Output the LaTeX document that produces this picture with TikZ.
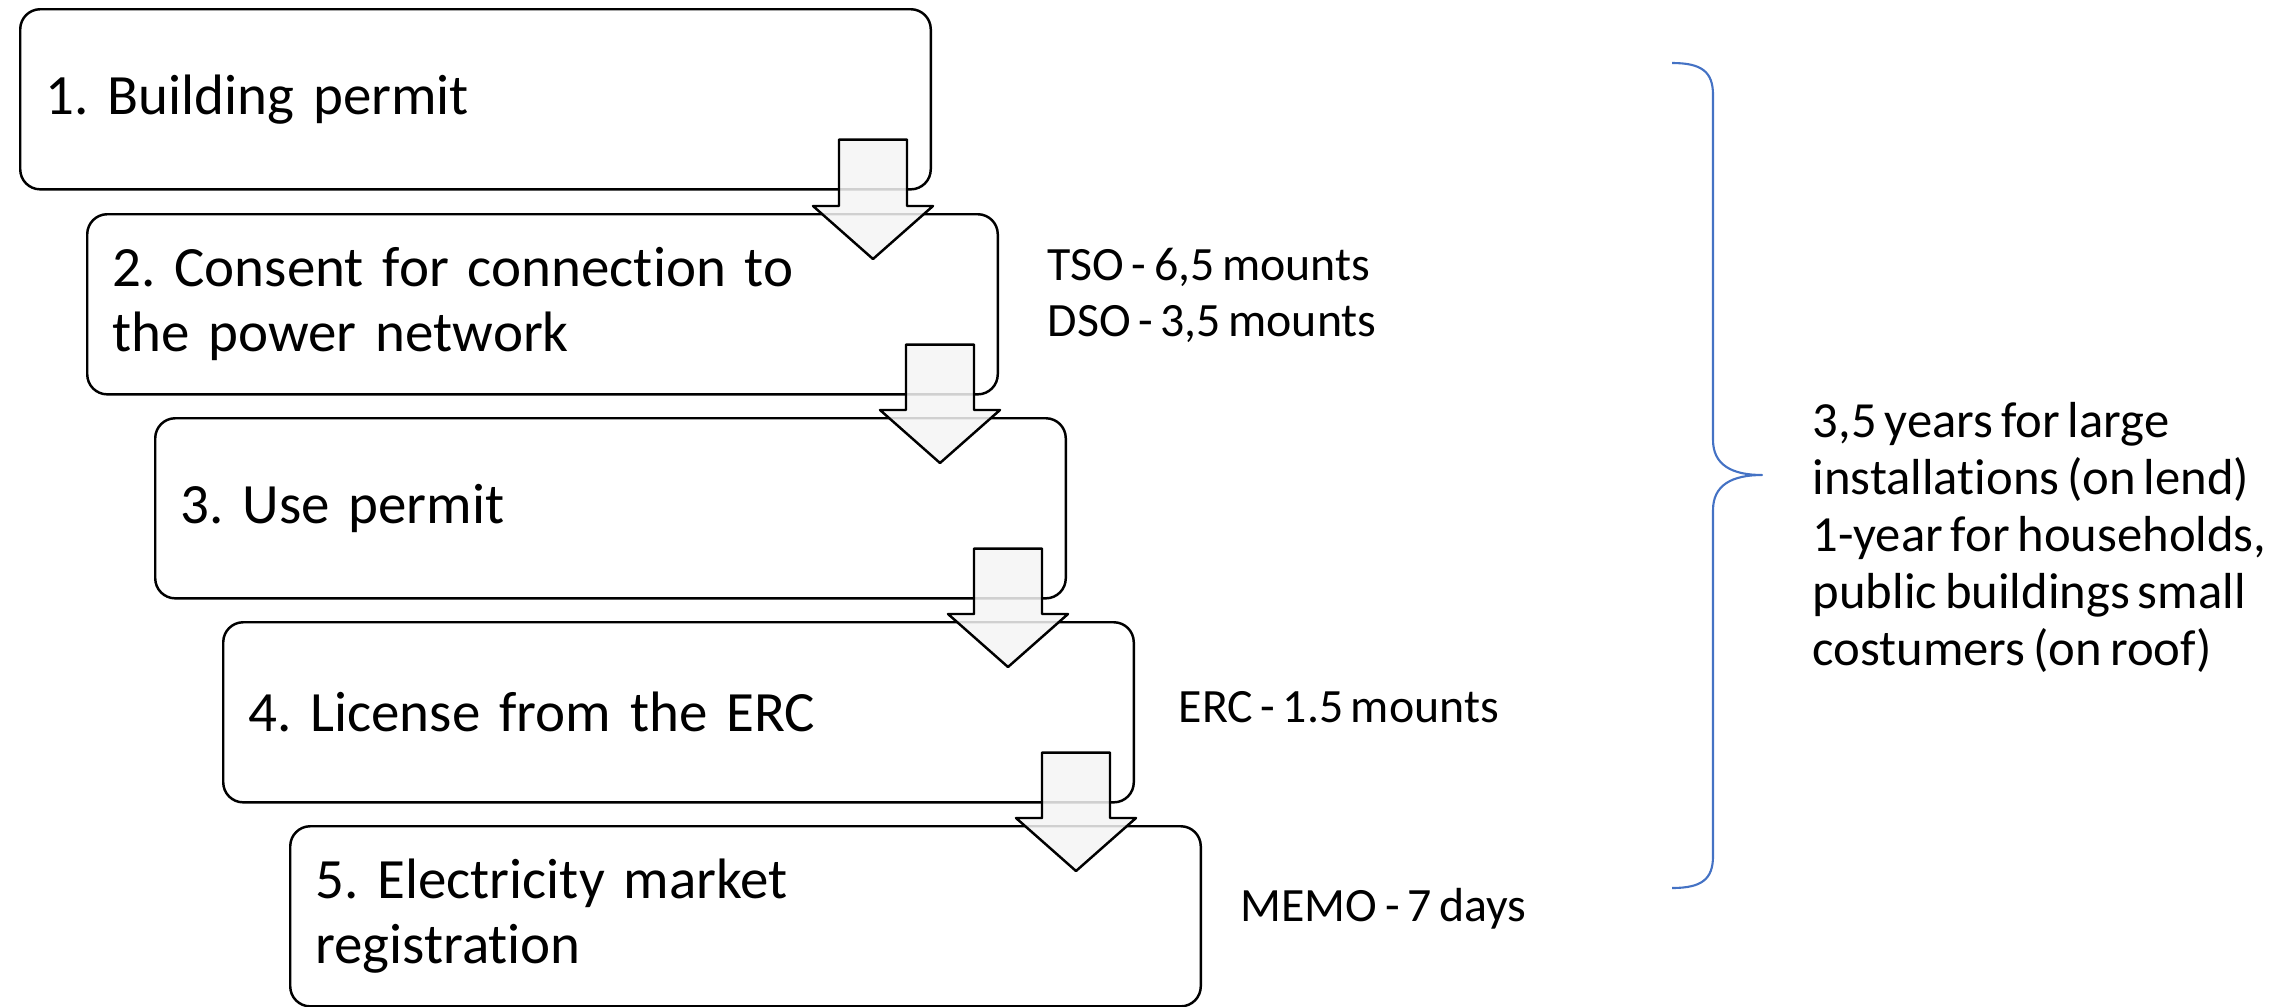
\documentclass[tikz,border=0pt]{standalone}
\usepackage{fontspec}
\setmainfont{Carlito}[Ligatures=NoCommon, WordSpace=0.7]
\frenchspacing
\usetikzlibrary{calc,positioning}
\definecolor{braceblue}{RGB}{68,114,196}
% block arrow from the lower right of one step box into the next one
\newcommand{\stepArrow}[2]{%
  \coordinate (t) at ($(#1.south east)+(-59,0)$);
  \coordinate (h) at (t |- #2.north);
  \draw[blockarrow] ($(t)+(-34,-51)$) -- ($(t)+(34,-51)$) -- ($(h)+(34,-7)$)
    -- ($(h)+(60,-7)$) -- ($(h)+(0,46)$) -- ($(h)+(-60,-7)$) -- ($(h)+(-34,-7)$) -- cycle;
}
\begin{document}
\begin{tikzpicture}[x=0.01cm, y=-0.01cm, line join=round]
  \tikzset{stepbox/.style={draw, line width=0.7pt, rounded corners=0.2cm, fill=white,
      text width=8.6cm, inner xsep=0.25cm, minimum height=1.8cm, align=left, anchor=north west,
      font=\fontsize{16.2}{18.5}\selectfont},
    blockarrow/.style={draw, line width=0.7pt, fill=black!4, fill opacity=0.85},
    side/.style={anchor=west, align=left, inner sep=0pt, font=\fontsize{13.6}{16}\selectfont},
    note/.style={side, font=\fontsize{14.4}{16.2}\selectfont}}
  \useasboundingbox (0,0) rectangle (2280,1006);
  \node[stepbox] (b1) at (19,8) {1. Building permit};
  \node[stepbox] (b2) at (86,213) {2. Consent for connection to\\the power network};
  \node[stepbox] (b3) at (154,417) {3. Use permit};
  \node[stepbox] (b4) at (222,621) {4. License from the ERC};
  \node[stepbox] (b5) at (289,825) {5. Electricity market\\registration};
  \stepArrow{b1}{b2}
  \stepArrow{b2}{b3}
  \stepArrow{b3}{b4}
  \stepArrow{b4}{b5}
  \node[side] (tso) at ($(b2.east)+(48,-9)$) {TSO - 6,5 mounts\\DSO - 3,5 mounts};
  \node[side] (erc) at ($(b4.east)+(43,-5)$) {ERC - 1.5 mounts};
  \node[side] (memo) at ($(b5.east)+(38,-8)$) {MEMO - 7 days};
  % brace over all steps
  \coordinate (tip) at (1762,475);
  \draw[braceblue, line width=0.6pt] (1672,63) .. controls (1702,63) and (1713,72) .. (1713,95)
    -- (1713,440) .. controls (1713,465) and (1732,475) .. (tip)
    .. controls (1732,475) and (1713,485) .. (1713,510)
    -- (1713,856) .. controls (1713,879) and (1702,888) .. (1672,888);
  \node[note] (total) at (1812,537) {3,5 years for large\\installations (on lend)\\1-year for households,\\public buildings small\\costumers (on roof)};
\end{tikzpicture}
\end{document}
